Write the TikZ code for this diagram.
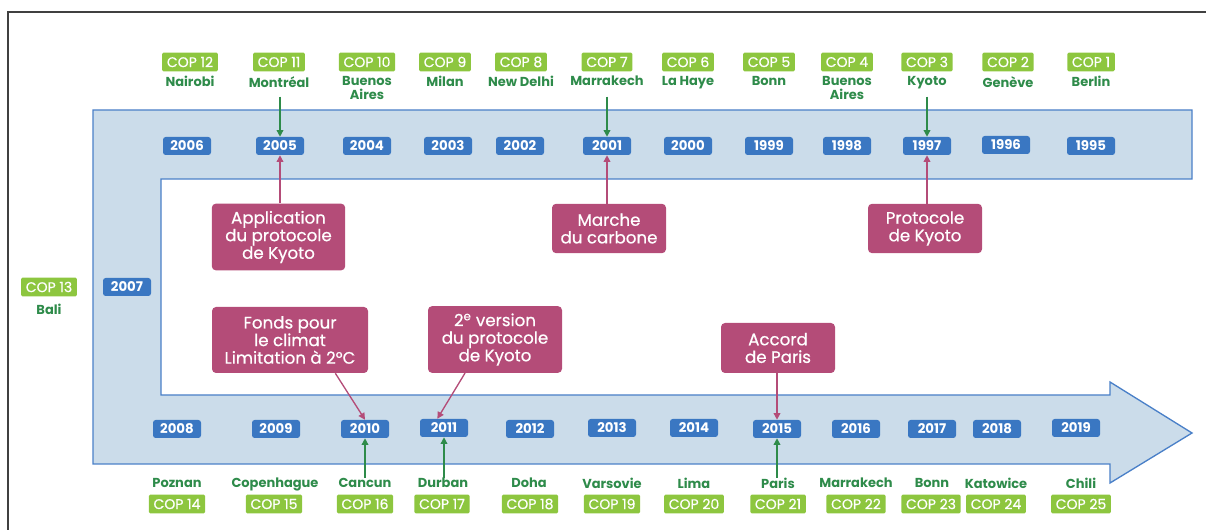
\documentclass[tikz,border=0pt]{standalone}
\usepackage{fontspec}
\setmainfont{Poppins}
\newfontfamily\medfont[FakeBold=0.6]{Poppins}
\usetikzlibrary{arrows.meta}
\definecolor{bandfill}{HTML}{CBDCEA}
\definecolor{bandline}{HTML}{4A80C8}
\definecolor{yearblue}{HTML}{3A77C2}
\definecolor{copgreen}{HTML}{8DC63F}
\definecolor{citygreen}{HTML}{2E8B4A}
\definecolor{eventpink}{HTML}{B44C78}
\begin{document}
\begin{tikzpicture}[x=0.75pt,y=-0.75pt,
  yearbox/.style={fill=yearblue, text=white, rounded corners=2pt, font=\bfseries\fontsize{10}{11}\selectfont, minimum width=36pt, minimum height=13.5pt, inner sep=0pt},
  copbox/.style={fill=copgreen, text=white, rounded corners=1pt, font=\medfont\fontsize{10.5}{11}\selectfont, minimum height=14pt, inner xsep=3.5pt, inner ysep=0pt},
  city/.style={text=citygreen, font=\bfseries\fontsize{9.75}{10.5}\selectfont, align=center, inner sep=0pt},
  event/.style={fill=eventpink, text=white, rounded corners=3pt, font=\medfont\fontsize{12.5}{13.2}\selectfont, align=center, inner sep=0pt},
  garrow/.style={draw=citygreen, line width=1pt, -{Triangle[length=5pt,width=5pt]}},
  parrow/.style={draw=eventpink, line width=1pt, -{Triangle[length=5pt,width=5pt]}}
]
\useasboundingbox (0,0) rectangle (1206,530);
\draw[line width=1.2pt, black!75] (8,530) -- (8,12) -- (1206,12);

% band
\draw[fill=bandfill, draw=bandline, line width=1pt]
  (93,110) -- (1192,110) -- (1192,179) -- (161,179) -- (161,395) -- (1110,395)
  -- (1110,382) -- (1192,433) -- (1110,483) -- (1110,464) -- (93,464) -- cycle;

% top row: COP labels
\foreach \n/\x in {12/190,11/279,10/367,9/445,8/521,7/607,6/688,5/769,4/847,3/927,2/1008,1/1091}
  \node[copbox] (cop\n) at (\x,62) {COP \n};
% top cities
\node[city, anchor=north] (c12) at (190,76) {Nairobi};
\node[city, anchor=north] (c11) at (279,76) {Montréal};
\node[city, anchor=north] (c10) at (367,76) {Buenos\\Aires};
\node[city, anchor=north] (c9) at (445,76) {Milan};
\node[city, anchor=north] (c8) at (521,76) {New Delhi};
\node[city, anchor=north] (c7) at (607,76) {Marrakech};
\node[city, anchor=north] (c6) at (688,76) {La Haye};
\node[city, anchor=north] (c5) at (769,76) {Bonn};
\node[city, anchor=north] (c4) at (847,76) {Buenos\\Aires};
\node[city, anchor=north] (c3) at (927,76) {Kyoto};
\node[city, anchor=north] (c2) at (1008,76) {Genève};
\node[city, anchor=north] (c1) at (1091,76) {Berlin};

% top years
\foreach \yr/\x/\y in {2006/187/146,2005/280/146,2004/367/146,2003/448/146,2002/520/146,2001/607/146,2000/688/146,1999/769/146,1998/847/146,1997/927/146,1996/1006/145,1995/1091/146}
  \node[yearbox] (y\yr) at (\x,\y) {\yr};

% left
\node[copbox] (cop13) at (49,287) {COP 13};
\node[city] (c13) at (49,309) {Bali};
\node[yearbox] (y2007) at (127,287) {2007};

% bottom years
\foreach \yr/\x/\y in {2008/177/429,2009/276/429,2010/365/429,2011/444/428,2012/530/429,2013/612/428,2014/694/428,2015/777/429,2016/856/429,2017/932/429,2018/997/429,2019/1076/428}
  \node[yearbox] (y\yr) at (\x,\y) {\yr};

% bottom cities
\node[city, anchor=north] (c14) at (177,478) {Poznan};
\node[city, anchor=north] (c15) at (275,478) {Copenhague};
\node[city, anchor=north] (c16) at (365,478) {Cancun};
\node[city, anchor=north] (c17) at (443,478) {Durban};
\node[city, anchor=north] (c18) at (529,478) {Doha};
\node[city, anchor=north] (c19) at (612,478) {Varsovie};
\node[city, anchor=north] (c20) at (694,478) {Lima};
\node[city, anchor=north] (c21) at (778,478) {Paris};
\node[city, anchor=north] (c22) at (856,478) {Marrakech};
\node[city, anchor=north] (c23) at (932,478) {Bonn};
\node[city, anchor=north] (c24) at (996,478) {Katowice};
\node[city, anchor=north] (c25) at (1081,478) {Chili};
\foreach \n/\x in {14/177,15/274,16/365,17/442,18/530,19/612,20/694,21/778,22/856,23/931,24/996,25/1081}
  \node[copbox] (cop\n) at (\x,504) {COP \n};

% events
\node[event, minimum width=100pt, minimum height=50pt] (evApp) at (278.5,237) {Application\\du protocole\\de Kyoto};
\node[event, minimum width=85.5pt, minimum height=37pt] (evMar) at (609,228.5) {Marche\\du carbone};
\node[event, minimum width=85.5pt, minimum height=37pt] (evPro) at (925,228.5) {Protocole\\de Kyoto};
\node[event, minimum width=117pt, minimum height=49.5pt] (evFon) at (290,340) {Fonds pour\\le climat\\Limitation à 2°C};
\node[event, minimum width=100.5pt, minimum height=50pt] (evVer) at (495,339.5) {2\textsuperscript{e} version\\du protocole\\de Kyoto};
\node[event, minimum width=85.5pt, minimum height=37.5pt] (evAcc) at (778,348) {Accord\\de Paris};

% green arrows top
\draw[garrow] ([yshift=30pt]y2005.north) -- (y2005.north);
\draw[garrow] ([yshift=30pt]y2001.north) -- (y2001.north);
\draw[garrow] ([yshift=30pt]y1997.north) -- (y1997.north);
% pink arrows top
\draw[parrow] (evApp.north -| y2005.south) -- (y2005.south);
\draw[parrow] (evMar.north -| y2001.south) -- (y2001.south);
\draw[parrow] (evPro.north -| y1997.south) -- (y1997.south);
% pink arrows bottom
\draw[parrow] ([xshift=34pt]evFon.south) -- (y2010.north);
\draw[parrow] ([xshift=-22.5pt]evVer.south) -- ([xshift=-5pt]y2011.north);
\draw[parrow] (evAcc.south -| y2015.north) -- (y2015.north);
% green arrows bottom
\draw[garrow] (y2010.south |- c16.north) -- (y2010.south);
\draw[garrow] (y2011.south |- c17.north) -- (y2011.south);
\draw[garrow] (y2015.south |- c21.north) -- (y2015.south);
\end{tikzpicture}
\end{document}
